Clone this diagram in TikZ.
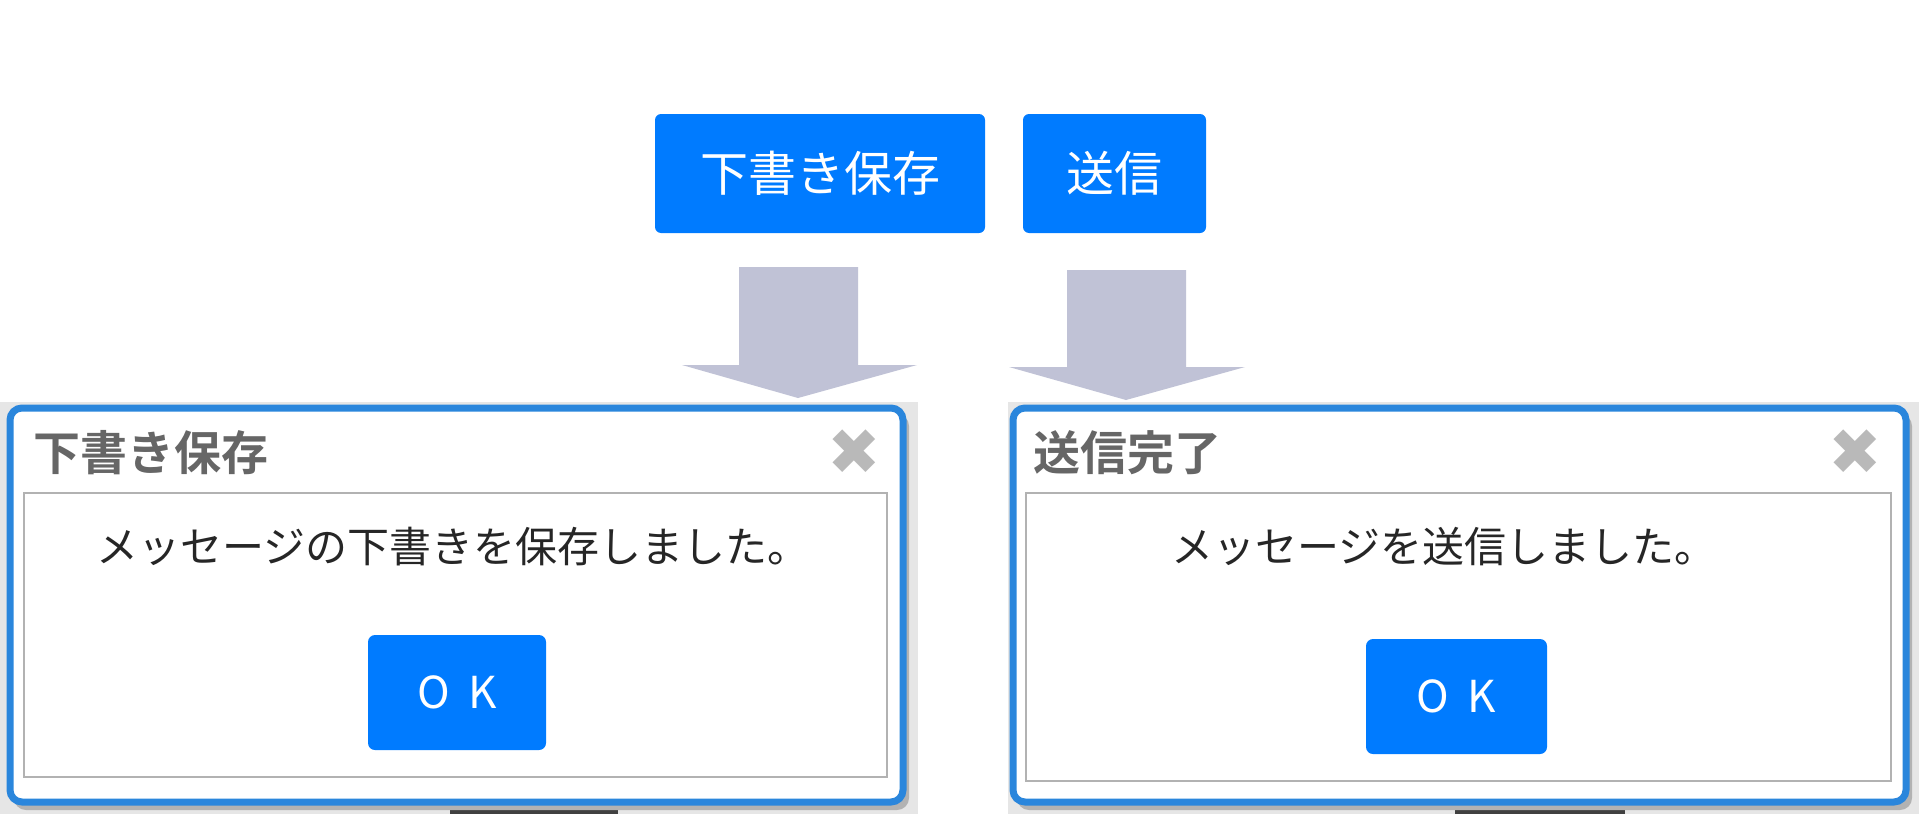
\documentclass[tikz,border=0pt]{standalone}
\usepackage{fontspec}
\setmainfont{Noto Sans CJK JP}
\newfontfamily\jpb{Noto Sans CJK JP Bold}
\newfontfamily\dejab{DejaVu Sans}
\begin{document}
\begin{tikzpicture}[x=1pt,y=-1pt,
  btn/.style={fill=blue1,rounded corners=6pt,inner sep=0pt,text=white,font=\fontsize{48}{52}\selectfont},
  arr/.style={fill=arrc,draw=none},
  dlg/.style={draw=dblue,line width=7pt,fill=white,rounded corners=12pt},
  panel/.style={draw=gray!60,line width=2pt,fill=white},
  ttl/.style={anchor=west,text=tgray,font=\jpb\fontsize{47}{50}\selectfont},
  clx/.style={text=gray!55,font=\dejab\fontsize{64}{66}\selectfont},
  msg/.style={font=\fontsize{42}{46}\selectfont,text=black!85},
  okb/.style={fill=blue1,rounded corners=7pt,text=white,font=\fontsize{44}{46}\selectfont}]
\definecolor{blue1}{HTML}{007BFF}
\definecolor{arrc}{HTML}{C0C2D6}
\definecolor{dblue}{HTML}{2A86DC}
\definecolor{tgray}{HTML}{666666}
\definecolor{bgg}{HTML}{E6E6E6}
\useasboundingbox (0,0) rectangle (1919,814);
\fill[white] (0,0) rectangle (1919,814);
\fill[bgg] (0,402) rectangle (918,814);
\fill[bgg] (1008,402) rectangle (1919,814);
\fill[black!75] (450,795) rectangle (618,814);
\fill[black!75] (1455,795) rectangle (1625,814);
\node[btn,minimum width=330pt,minimum height=119pt] (b1) at (820,173.5) {下書き保存};
\node[btn,minimum width=183pt,minimum height=119pt] (b2) at (1114.5,173.5) {送信};
\fill[arr] (739,267) -- (858,267) -- (858,365) -- (917,365) -- (798,398) -- (682,365) -- (739,365) -- cycle;
\fill[arr] (1067,270) -- (1186,270) -- (1186,367) -- (1245,367) -- (1126,400) -- (1009,367) -- (1067,367) -- cycle;
\fill[black!30,rounded corners=12pt] (14,414) rectangle (909,810);
\draw[dlg] (10,408) rectangle (903,802);
\draw[panel] (24,493) rectangle (887,777);
\node[ttl] (t1) at (30,453) {下書き保存};
\node[clx] (x1) at (854,452) {✖};
\node[msg] (m1) at (453,547) {メッセージの下書きを保存しました。};
\node[okb,minimum width=178pt,minimum height=115pt] (ok1) at (457,692.5) {O\hspace{18pt}K};
\fill[black!30,rounded corners=12pt] (1017,414) rectangle (1912,810);
\draw[dlg] (1013,408) rectangle (1906,802);
\draw[panel] (1026,493) rectangle (1891,781);
\node[ttl] (t2) at (1030,453) {送信完了};
\node[clx] (x2) at (1855,452) {✖};
\node[msg] (m2) at (1444,547) {メッセージを送信しました。};
\node[okb,minimum width=181pt,minimum height=115pt] (ok2) at (1456.5,696.5) {O\hspace{18pt}K};
\end{tikzpicture}
\end{document}
